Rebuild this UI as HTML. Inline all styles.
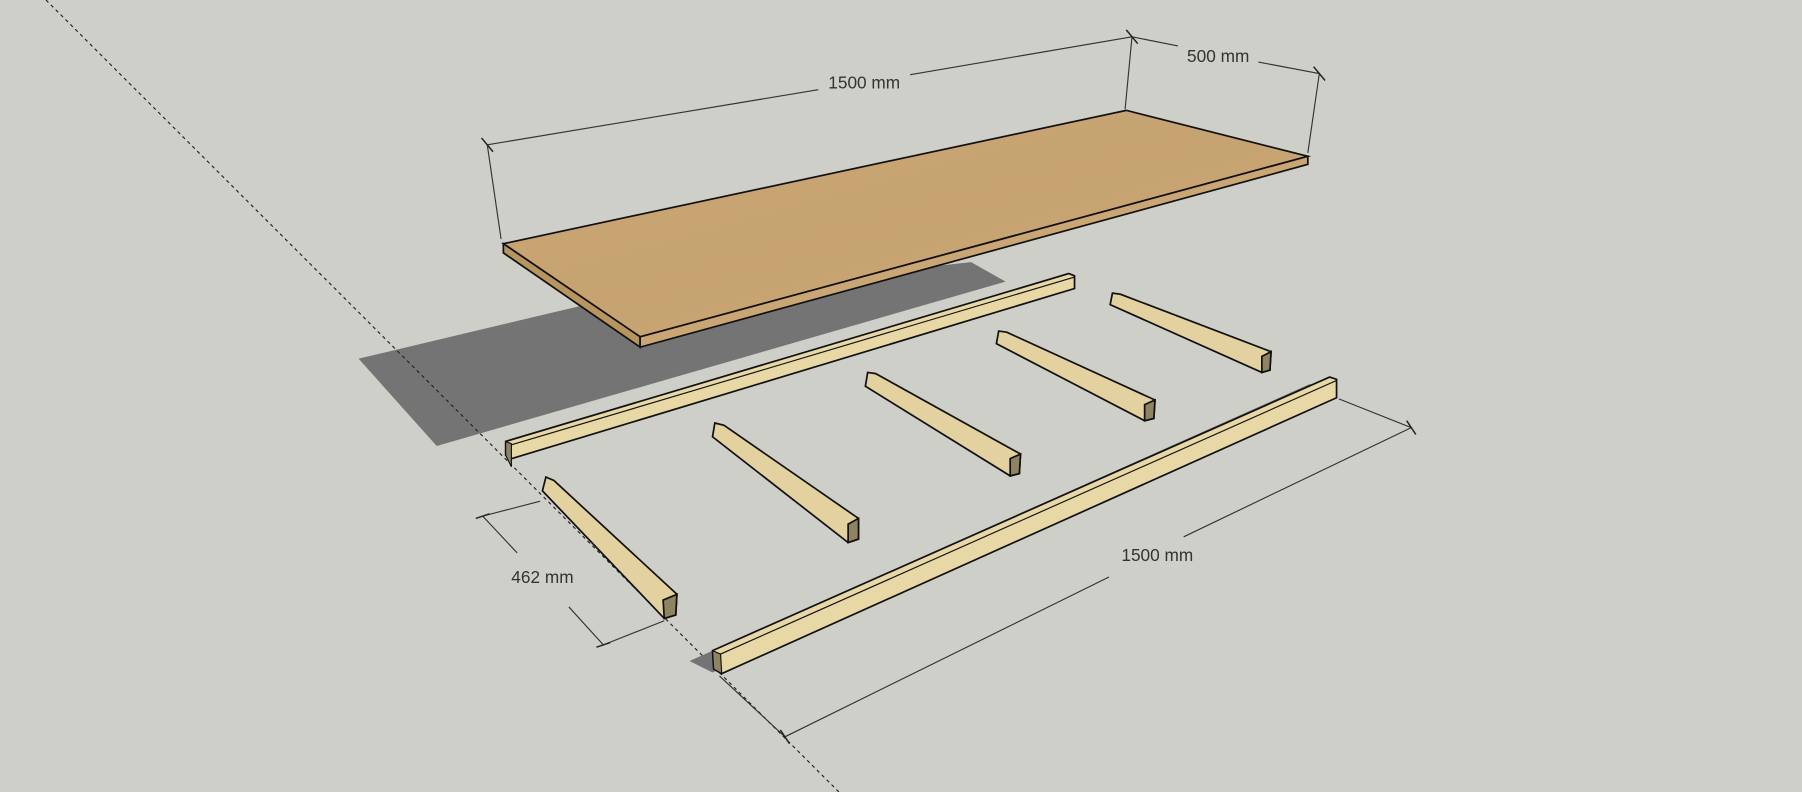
<!DOCTYPE html>
<html><head><style>
html,body{margin:0;padding:0;background:#cfcfca;}
svg{display:block;}
text{font-family:"Liberation Sans",sans-serif;font-size:15px;fill:#333;}
</style></head><body>
<svg width="1802" height="792" viewBox="0 0 1568 689" preserveAspectRatio="none" xmlns="http://www.w3.org/2000/svg">
<defs>
<linearGradient id="wood" x1="0" y1="0" x2="1" y2="1">
<stop offset="0" stop-color="#c9a675"/><stop offset="0.5" stop-color="#c6a371"/><stop offset="1" stop-color="#cba978"/>
</linearGradient>
</defs>
<rect width="1568" height="689" fill="#cfcfca"/>
<!-- shadow -->
<polygon points="312,312 510,265 845,228 875,245 380,388" fill="#747474"/>
<!-- dashed axis -->
<line x1="40" y1="0" x2="730" y2="689" stroke="#222" stroke-width="1" stroke-dasharray="3,3"/>
<!-- board -->
<polygon points="438,212 980,96 1138,136 557,293" fill="url(#wood)" stroke="#111" stroke-width="1.5"/>
<polygon points="438,212 557,293 557,302 438,220" fill="#b8955f" stroke="#111" stroke-width="1.5"/>
<polygon points="557,293 1138,136 1138,143 557,302" fill="#c9a674" stroke="#111" stroke-width="1.5"/>
<!-- long rail back -->
<polygon points="440,384 930,238 935,240 935,251 445,399 440,396" fill="#e8d8a6" stroke="#111" stroke-width="1.5"/>
<polygon points="440,384 445,386 445,406 440,396" fill="#8f8462" stroke="#111" stroke-width="1"/>
<line x1="445" y1="387" x2="935" y2="241" stroke="#111" stroke-width="1"/>
<!-- short pieces -->
<g stroke="#111" stroke-width="1.5">
<polygon points="475,415 482,418 589,517 588,535 578,538 472,427" fill="#e3d29f"/>
<polygon points="577,522 589,517 588,535 578,538" fill="#8f8462"/>
<polygon points="622,368 630,370 747,451 747,469 738,472 620,380" fill="#e3d29f"/>
<polygon points="738,456 747,451 747,469 738,472" fill="#8f8462"/>
<polygon points="755,324 762,325 888,395 887,412 879,414 753,336" fill="#e3d29f"/>
<polygon points="879,399 888,395 887,412 879,414" fill="#8f8462"/>
<polygon points="869,288 876,289 1005,348 1004,364 996,366 867,299" fill="#e3d29f"/>
<polygon points="996,352 1005,348 1004,364 996,366" fill="#8f8462"/>
<polygon points="968,255 975,256 1106,306 1105,322 1098,324 966,265" fill="#e3d29f"/>
<polygon points="1098,310 1106,306 1105,322 1098,324" fill="#8f8462"/>
</g>
<!-- front long rail -->
<polygon points="600,575 1140,334 1140,342 620,585" fill="#747474"/>
<polygon points="620,566 1157,328 1163,330 1163,346 628,586 621,582" fill="#e8d8a6" stroke="#111" stroke-width="1.5"/>
<polygon points="620,566 627,569 628,586 621,582" fill="#8f8462" stroke="#111" stroke-width="1"/>
<line x1="627" y1="569" x2="1163" y2="331" stroke="#111" stroke-width="1"/>
<!-- dimensions -->
<g stroke="#333" stroke-width="1" fill="none">
<line x1="424" y1="126" x2="712" y2="78"/><line x1="792" y1="65" x2="985" y2="32"/>
<line x1="424" y1="126" x2="436" y2="208"/><line x1="985" y1="32" x2="979" y2="95"/>
<line x1="985" y1="32" x2="1025" y2="40"/><line x1="1095" y1="54" x2="1148" y2="64"/>
<line x1="1148" y1="64" x2="1138" y2="133"/>
<line x1="420" y1="449" x2="450" y2="481"/><line x1="495" y1="528" x2="525" y2="561"/>
<line x1="420" y1="449" x2="470" y2="436"/><line x1="525" y1="561" x2="578" y2="540"/>
<line x1="683" y1="641" x2="965" y2="502"/><line x1="1030" y1="467" x2="1228" y2="372"/>
<line x1="683" y1="641" x2="626" y2="588"/><line x1="1228" y1="372" x2="1165" y2="347"/>
<g stroke="#222" stroke-width="1.3">
<line x1="419" y1="120" x2="429" y2="132"/><line x1="980" y1="26" x2="990" y2="38"/>
<line x1="1143" y1="58" x2="1153" y2="70"/><line x1="414" y1="451" x2="426" y2="447"/>
<line x1="519" y1="563" x2="531" y2="559"/><line x1="679" y1="635" x2="687" y2="647"/>
<line x1="1224" y1="366" x2="1232" y2="378"/>
</g>
</g>
<text x="752" y="77" text-anchor="middle">1500 mm</text>
<text x="1060" y="54" text-anchor="middle">500 mm</text>
<text x="472" y="507" text-anchor="middle">462 mm</text>
<text x="1007" y="488" text-anchor="middle">1500 mm</text>
</svg>
</body></html>
